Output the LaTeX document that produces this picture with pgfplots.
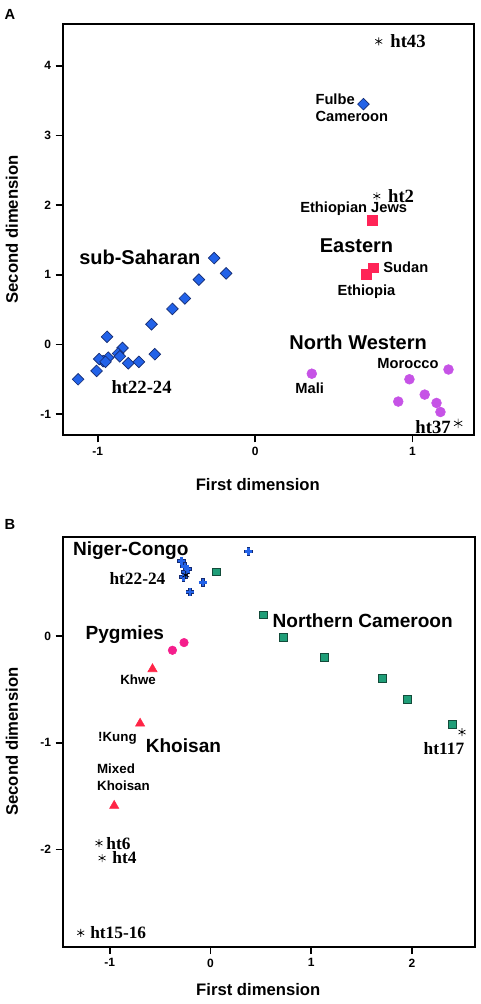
\documentclass[border=0pt]{standalone}
\usepackage{fontspec}
\setmainfont{Liberation Sans}
\newfontfamily\tnr{Liberation Serif}
\usepackage{pgfplots}
\pgfplotsset{compat=1.18}
\definecolor{dblue}{HTML}{2262E8}
\definecolor{dnavy}{HTML}{142A70}
\definecolor{sqred}{HTML}{FF2457}
\definecolor{purp}{HTML}{C653E6}
\definecolor{grn}{HTML}{1F9E78}
\definecolor{dgrn}{HTML}{134B3A}
\definecolor{hpink}{HTML}{F51E8C}
\definecolor{trired}{HTML}{FF2446}
\pgfplotsset{mystyle/.style={scale only axis, axis line style={line width=1.3pt}, tick style={line width=1.3pt, black}, tick align=outside, major tick length=5.5pt, tick pos=left, ticklabel style={font=\bfseries\fontsize{9}{10}\selectfont}, /pgf/number format/assume math mode=true, clip=false, label style={font=\bfseries\fontsize{12.5}{14}\selectfont}}}
\tikzset{
 labA/.style={font=\bfseries\fontsize{15}{17}\selectfont},
 smlA/.style={font=\bfseries\fontsize{11}{13}\selectfont},
 htA/.style={font=\tnr\bfseries\fontsize{14}{16}\selectfont},
 labB/.style={font=\bfseries\fontsize{14.3}{16}\selectfont},
 smlB/.style={font=\bfseries\fontsize{10}{12.5}\selectfont},
 htB/.style={font=\tnr\bfseries\fontsize{13}{15}\selectfont}}
\begin{document}
\begin{tikzpicture}
\path[use as bounding box] (0,0) rectangle (360pt,-753pt);
\node[font=\bfseries\fontsize{11}{12}\selectfont] at (7.5pt,-10.5pt) {A};
\node[font=\bfseries\fontsize{11}{12}\selectfont] at (7.5pt,-393pt) {B};
% Panel A
\begin{axis}[mystyle, at={(47.25pt,-18pt)}, anchor=north west,
  width=308.25pt, height=308.25pt,
  xmin=-1.22, xmax=1.39, ymin=-1.3, ymax=4.6,
  xtick={-1,0,1}, ytick={-1,0,1,2,3,4},
  xlabel={First dimension}, ylabel={Second dimension},
  xlabel style={at={(axis description cs:0.474,-0.1217)}, anchor=center},
  ylabel style={at={(axis description cs:-0.124,0.5)}, anchor=center}]
\addplot[only marks, mark=square*, mark size=3.1pt, mark options={rotate=45, fill=dblue, draw=dnavy, line width=0.5pt}] coordinates {
(-0.26,1.24) (-0.184,1.02) (-0.357,0.93) (-0.446,0.66) (-0.525,0.51) (-0.658,0.29) (-0.94,0.11) (-0.637,-0.14) (-0.738,-0.25) (-0.806,-0.27) (-0.842,-0.05) (-0.87,-0.13) (-0.859,-0.17) (-0.933,-0.19) (-0.965,-0.24) (-1.007,-0.38) (-1.124,-0.50) (-0.99,-0.21) (-0.95,-0.25) (0.688,3.45)};
\addplot[only marks, mark=square*, mark size=3.6pt, mark options={fill=sqred, draw=sqred}] coordinates {(0.745,1.786) (0.749,1.10) (0.707,1.01)};
\addplot[only marks, mark=*, mark size=3.7pt, mark options={fill=purp, draw=purp}] coordinates {(0.36,-0.42) (1.228,-0.36) (0.98,-0.50) (1.077,-0.72) (0.909,-0.82) (1.152,-0.84) (1.177,-0.97)};
\addplot[only marks, mark=asterisk, mark size=3pt, mark options={black, line width=0.5pt}] coordinates {(0.785,4.35) (0.773,2.13)};
\addplot[only marks, mark=asterisk, mark size=3.6pt, mark options={black, line width=0.5pt}] coordinates {(1.289,-1.133)};
\node[labA] at (axis cs:-0.732,1.247) {sub-Saharan};
\node[labA] at (axis cs:0.644,1.414) {Eastern};
\node[labA] at (axis cs:0.654,0.033) {North Western};
\node[smlA, anchor=west, align=left] at (axis cs:0.354,3.396) {Fulbe\\Cameroon};
\node[smlA] at (axis cs:0.626,1.953) {Ethiopian Jews};
\node[smlA] at (axis cs:0.957,1.114) {Sudan};
\node[smlA] at (axis cs:0.707,0.757) {Ethiopia};
\node[smlA] at (axis cs:0.971,-0.276) {Morocco};
\node[smlA] at (axis cs:0.347,-0.624) {Mali};
\node[htA] at (axis cs:0.971,4.35) {ht43};
\node[htA] at (axis cs:0.927,2.13) {ht2};
\node[htA] at (axis cs:1.13,-1.18) {ht37};
\node[htA] at (axis cs:-0.721,-0.61) {ht22-24};
\end{axis}
% Panel B
\begin{axis}[mystyle, at={(47.25pt,-402.5pt)}, anchor=north west,
  width=309pt, height=307.5pt,
  xmin=-1.463, xmax=2.625, ymin=-2.91, ymax=0.93,
  xtick={-1,0,1,2}, ytick={-2,-1,0},
  xlabel={First dimension}, ylabel={Second dimension},
  xlabel style={at={(axis description cs:0.474,-0.1056)}, anchor=center},
  ylabel style={at={(axis description cs:-0.124,0.5)}, anchor=center}]
\addplot[only marks, mark=square*, mark size=2.9pt, mark options={fill=grn, draw=dgrn, line width=0.5pt}] coordinates {(0.062,0.60) (0.526,0.197) (0.724,-0.01) (1.13,-0.20) (1.706,-0.40) (1.95,-0.59) (2.40,-0.83)};
\addplot[only marks, mark=+, mark size=3.2pt, mark options={dnavy, line width=2.8pt}] coordinates {(0.377,0.79) (-0.288,0.70) (-0.255,0.65) (-0.245,0.60) (-0.228,0.625) (-0.268,0.55) (-0.073,0.50) (-0.202,0.41)};
\addplot[only marks, mark=+, mark size=2.9pt, mark options={dblue, line width=1.8pt}] coordinates {(0.377,0.79) (-0.288,0.70) (-0.255,0.65) (-0.245,0.60) (-0.228,0.625) (-0.268,0.55) (-0.073,0.50) (-0.202,0.41)};
\addplot[only marks, mark=*, mark size=3.2pt, mark options={fill=hpink, draw=hpink}] coordinates {(-0.377,-0.134) (-0.262,-0.062)};
\addplot[only marks, mark=triangle*, mark size=4pt, mark options={fill=trired, draw=trired}] coordinates {(-0.575,-0.31) (-0.698,-0.82) (-0.955,-1.59)};
\addplot[only marks, mark=asterisk, mark size=3pt, mark options={black, line width=0.5pt}] coordinates {(2.496,-0.90) (-1.106,-1.94) (-1.075,-2.08) (-1.287,-2.78) (-0.245,0.57)};
\node[labB] at (axis cs:-0.791,0.797) {Niger-Congo};
\node[labB] at (axis cs:1.511,0.143) {Northern Cameroon};
\node[labB] at (axis cs:-0.85,0.009) {Pygmies};
\node[labB] at (axis cs:-0.268,-1.031) {Khoisan};
\node[smlB] at (axis cs:-0.718,-0.412) {Khwe};
\node[smlB] at (axis cs:-0.923,-0.959) {!Kung};
\node[smlB, anchor=west, align=left] at (axis cs:-1.171,-1.32) {Mixed\\Khoisan};
\node[htB] at (axis cs:-0.724,0.534) {ht22-24};
\node[htB] at (axis cs:2.317,-1.052) {ht117};
\node[htB] at (axis cs:-0.913,-1.943) {ht6};
\node[htB] at (axis cs:-0.853,-2.078) {ht4};
\node[htB] at (axis cs:-0.915,-2.777) {ht15-16};
\end{axis}
\end{tikzpicture}
\end{document}
